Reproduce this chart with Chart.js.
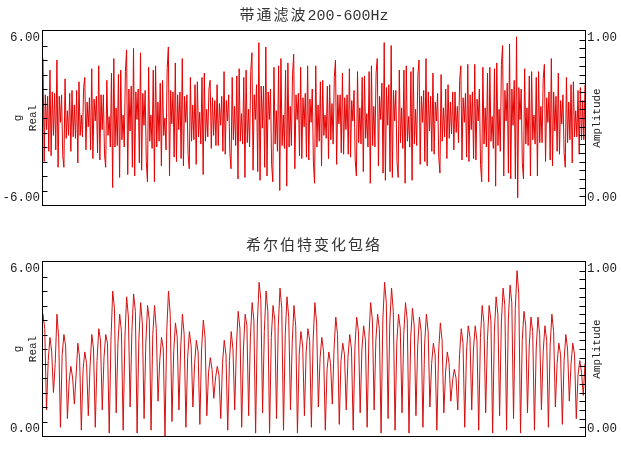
<!DOCTYPE html>
<html>
<head>
<meta charset="utf-8">
<title>带通滤波200-600Hz / 希尔伯特变化包络</title>
<script src="https://cdn.jsdelivr.net/npm/chart.js@4.4.1/dist/chart.umd.min.js"></script>
<style>
    html, body { margin: 0; padding: 0; background: #fff; }
    #page { position: relative; width: 621px; height: 450px; overflow: hidden; }
    canvas { position: absolute; left: 0; }
    #topChart { top: 0; }
    #bottomChart { top: 225px; }
    .title {
        position: absolute; left: 43px; width: 542px; text-align: center;
        font: 15px/16px "Liberation Mono", monospace; color: #333; white-space: nowrap;
    }
    .title span { font-family: "Noto Sans CJK SC", sans-serif; letter-spacing: 2px; }
</style>
</head>
<body>
<div id="page">
    <canvas id="topChart" width="621" height="225"></canvas>
    <canvas id="bottomChart" width="621" height="225"></canvas>
    <div class="title" style="top:6px"><span>带通滤波</span>200-600Hz</div>
    <div class="title" style="top:236px"><span>希尔伯特变化包络</span></div>
</div>
<script>
// 带通滤波后的信号 (g)
const bandpassValues = [
    4.1, -3.0, 1.6, -0.8, 1.5, -2.3,  3.3, -2.6, 1.8, -1.2, 1.7, -2.2,  4.0, -3.4, 1.5, -0.3, 1.6, -2.6,
    -3.4, 2.7, -1.4, 0.5, -1.2, 1.7,  -2.3, 1.9, -1.3, 0.9, -1.4, 1.9,  -3.1, 2.5, -1.2, 0.2, -1.3, 2.1,
    2.8, -2.2, 1.1, -0.6, 1.4, -2.2,  3.4, -2.8, 1.3, -0.2, 1.5, -2.4,  3.6, -2.9, 1.6, -0.8, 1.6, -2.5,
    -3.4, 2.6, -1.2, 0.1, -2.0, 3.1,  -4.8, 4.1, -2.0, 0.7, -1.9, 3.0,  -4.1, 3.3, -1.5, 0.2, -2.0, 3.2,
    4.7, -3.9, 2.0, -0.9, 2.2, -3.4,  4.8, -4.0, 1.8, -0.1, 2.0, -3.1,  4.5, -3.6, 1.7, -0.5, 1.9, -3.0,
    -4.4, 3.5, -1.6, 0.2, -2.1, 3.3,  -4.4, 3.6, -2.0, 1.1, -1.6, 2.4,  -3.3, 2.6, -1.2, 0.0, -2.2, 3.4,
    4.9, -4.0, 1.9, -0.4, 1.8, -2.7,  3.8, -3.0, 1.6, -0.8, 1.8, -2.8,  4.1, -3.3, 1.5, -0.3, 1.6, -2.5,
    -3.5, 2.8, -1.6, 0.9, -1.5, 2.3,  -3.2, 2.5, -1.3, 0.4, -1.8, 2.8,  -3.9, 3.1, -1.6, 0.6, -1.3, 2.0,
    2.6, -2.1, 1.4, -1.2, 1.2, -1.9,  2.3, -1.9, 1.0, -0.5, 1.5, -2.3,  3.2, -2.5, 1.2, -0.2, 1.6, -2.4,
    -3.5, 2.8, -1.5, 0.8, -1.9, 2.9,  -4.2, 3.4, -1.6, 0.3, -1.8, 2.8,  -4.1, 3.3, -1.7, 0.6, -2.0, 3.2,
    4.5, -3.6, 1.6, -0.1, 2.3, -3.7,  5.2, -4.3, 2.2, -0.7, 2.2, -3.4,  4.9, -4.0, 1.8, -0.1, 2.0, -3.2,
    -4.4, 3.5, -1.8, 0.5, -2.3, 3.6,  -5.0, 4.1, -1.9, 0.2, -2.1, 3.3,  -4.7, 3.8, -2.0, 0.8, -1.9, 3.0,
    4.4, -3.5, 1.6, -0.1, 1.7, -2.6,  3.5, -2.8, 1.4, -0.6, 1.7, -2.7,  3.6, -2.9, 1.3, -0.3, 2.0, -3.1,
    -4.5, 3.6, -2.0, 0.9, -1.6, 2.5,  -3.3, 2.6, -1.2, 0.2, -1.4, 2.2,  -2.8, 2.3, -1.5, 1.0, -1.8, 2.8,
    4.0, -3.2, 1.6, -0.4, 1.6, -2.4,  3.1, -2.5, 1.4, -0.8, 1.6, -2.5,  3.4, -2.7, 1.2, -0.2, 1.9, -2.9,
    -4.0, 3.2, -1.7, 0.7, -1.8, 2.8,  -3.7, 2.9, -1.4, 0.3, -2.0, 3.2,  -4.5, 3.6, -1.9, 0.8, -2.0, 3.1,
    4.1, -3.3, 1.5, -0.1, 2.4, -3.8,  5.2, -4.3, 2.1, -0.5, 2.3, -3.7,  5.0, -4.1, 1.9, -0.2, 1.9, -3.0,
    -4.1, 3.3, -1.7, 0.7, -2.1, 3.3,  -4.5, 3.6, -1.6, 0.1, -2.0, 3.2,  -4.3, 3.5, -1.8, 0.6, -1.9, 2.9,
    4.0, -3.2, 1.5, -0.3, 1.9, -3.0,  4.1, -3.3, 1.8, -0.9, 1.5, -2.3,  3.1, -2.5, 1.1, -0.2, 1.7, -2.7,
    -3.8, 3.0, -1.6, 0.7, -1.3, 2.0,  -2.8, 2.3, -1.4, 1.1, -1.1, 1.8,  -2.2, 1.8, -1.0, 0.8, -1.7, 2.6,
    3.6, -2.9, 1.4, -0.3, 1.7, -2.7,  3.7, -3.0, 1.6, -0.8, 1.8, -2.8,  3.7, -2.9, 1.3, -0.2, 2.0, -3.2,
    -4.4, 3.5, -1.8, 0.7, -2.0, 3.1,  -4.4, 3.5, -1.6, 0.1, -2.1, 3.4,  -4.7, 3.8, -1.9, 0.6, -2.3, 3.7,
    5.0, -4.0, 1.9, -0.2, 2.4, -3.8,  5.1, -4.2, 2.0, -0.5, 2.6, -4.2,  5.6, -5.5, 2.1, -0.1, 2.0, -3.1,
    -4.2, 3.4, -1.8, 0.7, -1.9, 2.9,  -4.0, 3.2, -1.5, 0.2, -1.8, 2.8,  -4.0, 3.2, -1.7, 0.8, -1.7, 2.7,
    3.7, -3.0, 1.4, -0.3, 1.8, -2.9,  4.1, -3.3, 1.8, -0.9, 1.5, -2.3,  3.1, -2.5, 1.2, -0.4, 1.6, -2.4,
    -3.4, 2.8, -1.7, 1.1, -1.5, 2.3,  -3.1, 2.5, -1.3, 0.5, -1.3, 1.9,  -2.5, 2.1, -1.5, 1.2, -1.5, 2.3
];

// 希尔伯特变换包络 (g)
const envelopeValues = [
    4.2, 3.7, 0.9, 2.6,  3.4, 2.9, 1.5, 2.5,  4.2, 3.4, 0.3, 2.8,  3.5, 3.1, 0.6, 1.9,
    2.4, 2.0, 1.1, 2.1,  3.2, 2.7, 0.2, 2.3,  2.9, 2.5, 0.7, 2.4,  3.5, 3.0, 0.3, 2.6,
    3.7, 3.3, 0.9, 2.7,  3.5, 3.2, 0.1, 3.3,  5.0, 4.4, 0.8, 3.2,  4.2, 3.6, 0.2, 3.4,
    4.8, 4.1, 1.0, 3.6,  4.9, 4.3, 0.1, 3.3,  4.6, 3.9, 0.6, 3.2,  4.5, 4.0, 0.2, 3.5,
    4.5, 3.7, 1.2, 2.6,  3.4, 3.0, 0.0, 3.6,  5.0, 4.2, 0.5, 2.9,  3.9, 3.4, 0.9, 3.0,
    4.2, 3.5, 0.3, 2.7,  3.6, 3.1, 1.0, 2.5,  3.3, 2.9, 0.4, 3.0,  4.0, 3.4, 0.7, 2.2,
    2.7, 2.3, 1.3, 2.0,  2.4, 2.1, 0.6, 2.5,  3.3, 2.8, 0.2, 2.6,  3.6, 3.0, 0.9, 3.1,
    4.3, 3.7, 0.3, 3.0,  4.2, 3.8, 0.7, 3.4,  4.6, 4.0, 0.1, 3.9,  5.3, 4.7, 0.8, 3.6,
    5.0, 4.3, 0.1, 3.4,  4.5, 4.0, 0.6, 3.8,  5.1, 4.4, 0.2, 3.5,  4.8, 4.1, 0.9, 3.2,
    4.5, 3.8, 0.1, 2.8,  3.6, 3.1, 0.7, 2.9,  3.7, 3.3, 0.3, 3.3,  4.6, 3.9, 1.0, 2.7,
    3.4, 2.9, 0.2, 2.3,  2.9, 2.5, 1.1, 3.0,  4.1, 3.5, 0.4, 2.6,  3.2, 2.8, 0.9, 2.7,
    3.5, 3.0, 0.2, 3.1,  4.1, 3.6, 0.8, 3.0,  3.8, 3.3, 0.3, 3.4,  4.6, 4.0, 0.9, 3.3,
    4.2, 3.7, 0.1, 4.0,  5.3, 4.6, 0.6, 3.9,  5.1, 4.3, 0.2, 3.2,  4.2, 3.7, 0.8, 3.5,
    4.6, 4.0, 0.1, 3.4,  4.4, 3.8, 0.7, 3.1,  4.1, 3.6, 0.3, 3.2,  4.2, 3.6, 1.0, 2.5,
    3.2, 2.8, 0.2, 2.9,  3.9, 3.3, 0.8, 2.2,  2.9, 2.5, 1.2, 1.9,  2.3, 2.0, 0.9, 2.8,
    3.7, 3.2, 0.3, 2.9,  3.8, 3.4, 0.9, 3.0,  3.8, 3.3, 0.2, 3.4,  4.5, 3.9, 0.8, 3.3,
    4.5, 4.0, 0.1, 3.6,  4.8, 4.2, 0.7, 3.9,  5.1, 4.5, 0.2, 4.0,  5.2, 4.6, 0.6, 4.4,
    5.7, 4.9, 0.1, 3.3,  4.3, 3.8, 0.8, 3.1,  4.1, 3.6, 0.2, 3.0,  4.1, 3.5, 0.9, 2.9,
    3.8, 3.3, 0.3, 3.1,  4.2, 3.6, 1.0, 2.5,  3.2, 2.8, 0.4, 2.6,  3.5, 3.0, 1.2, 2.5,
    3.2, 2.8, 0.6, 2.1,  2.6, 2.2, 1.4, 2.5
];

// 刻度位置与端点标签
const topRealTicks = [-5, -4, -3, -2, -1, 0, 1, 2, 3, 4, 5];
const bottomRealTicks = [0.5, 1, 1.5, 2, 2.5, 3, 3.5, 4, 4.5, 5, 5.5];
const amplitudeTicks = [0.05, 0.1, 0.15, 0.2, 0.25, 0.3, 0.35, 0.4, 0.45, 0.5,
    0.55, 0.6, 0.65, 0.7, 0.75, 0.8, 0.85, 0.9, 0.95];
const topRealLabels = ['6.00', '-6.00'];
const bottomRealLabels = ['6.00', '0.00'];
const amplitudeLabels = ['1.00', '0.00'];
const leftAxisTitle = ['g', 'Real'];
const rightAxisTitle = 'Amplitude';

const textColor = '#222';
const axisFont = '"Liberation Mono", "DejaVu Sans Mono", monospace';

// 边框、内侧刻度、端点标签和轴标题
const framePlugin = {
    id: 'frame',
    afterDraw(chart, args, opts) {
        const { ctx, chartArea: a, scales } = chart;
        const left = a.left - 0.5;
        const right = a.right + 0.5;
        const top = a.top - 0.5;
        const bottom = a.bottom + 0.5;
        const midY = (a.top + a.bottom) / 2;

        ctx.save();
        ctx.strokeStyle = '#000';
        ctx.lineWidth = 1;
        ctx.strokeRect(left, top, right - left, bottom - top);

        ctx.beginPath();
        opts.realTicks.forEach((v) => {
            const y = Math.round(scales.y.getPixelForValue(v)) + 0.5;
            ctx.moveTo(left, y);
            ctx.lineTo(left + 5, y);
        });
        amplitudeTicks.forEach((v) => {
            const y = Math.round(scales.amp.getPixelForValue(v)) + 0.5;
            ctx.moveTo(right - 6, y);
            ctx.lineTo(right, y);
        });
        ctx.stroke();

        ctx.fillStyle = textColor;
        ctx.font = `12.5px ${axisFont}`;
        ctx.textBaseline = 'middle';
        ctx.textAlign = 'right';
        ctx.fillText(opts.realLabels[0], a.left - 3, a.top + 7);
        ctx.fillText(opts.realLabels[1], a.left - 3, a.bottom - 7);
        ctx.textAlign = 'left';
        ctx.fillText(amplitudeLabels[0], a.right + 2, a.top + 7);
        ctx.fillText(amplitudeLabels[1], a.right + 2, a.bottom - 7);

        ctx.font = `11px ${axisFont}`;
        ctx.textAlign = 'center';
        [[leftAxisTitle[0], 18], [leftAxisTitle[1], 33], [rightAxisTitle, 597]].forEach(([text, x]) => {
            ctx.save();
            ctx.translate(x, midY);
            ctx.rotate(-Math.PI / 2);
            ctx.fillText(text, 0, 0);
            ctx.restore();
        });
        ctx.restore();
    }
};

const makeChart = (canvasId, values, color, yMin, yMax, realTicks, realLabels, padding) => {
    return new Chart(document.getElementById(canvasId), {
        type: 'line',
        data: {
            labels: values.map((_, i) => i),
            datasets: [{
                data: values,
                borderColor: color,
                borderWidth: 1,
                pointRadius: 0,
                tension: 0,
                fill: false
            }]
        },
        options: {
            responsive: false,
            animation: false,
            devicePixelRatio: 1,
            layout: { padding: padding },
            events: [],
            plugins: {
                legend: { display: false },
                tooltip: { enabled: false },
                frame: { realTicks: realTicks, realLabels: realLabels }
            },
            scales: {
                x: { display: false },
                y: { display: false, min: yMin, max: yMax },
                amp: { display: false, position: 'right', min: 0, max: 1 }
            }
        },
        plugins: [framePlugin]
    });
};

makeChart('topChart', bandpassValues, '#e60000', -6, 6, topRealTicks, topRealLabels,
    { left: 43, right: 36, top: 31, bottom: 20 });
makeChart('bottomChart', envelopeValues, '#d41010', 0, 6, bottomRealTicks, bottomRealLabels,
    { left: 43, right: 36, top: 37, bottom: 14 });
</script>
</body>
</html>
